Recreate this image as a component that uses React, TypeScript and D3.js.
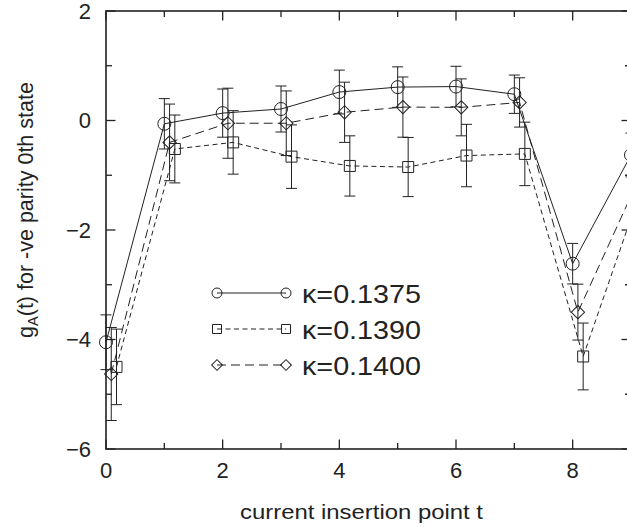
import React, { useEffect, useRef } from 'react';
import * as d3 from 'd3';

// INSERTION POINTS AND SERIES VALUES
const tPoints = [0, 1, 2, 3, 4, 5, 6, 7, 8, 9];

const k1375 = [-4.05, -0.06, 0.135, 0.21, 0.52, 0.61, 0.62, 0.48, -2.615, -0.63];
const k1375Err = [0.5, 0.46, 0.44, 0.42, 0.4, 0.37, 0.37, 0.35, 0.37, 0.4];

const k1390 = [-4.5, -0.52, -0.4, -0.66, -0.83, -0.85, -0.64, -0.61, -4.31, -1.23];
const k1390Err = [0.69, 0.62, 0.58, 0.58, 0.55, 0.54, 0.57, 0.58, 0.61, 0.6];

const k1400 = [-4.63, -0.4, -0.05, -0.05, 0.15, 0.245, 0.24, 0.33, -3.5, -1.17];
const k1400Err = [0.85, 0.7, 0.64, 0.59, 0.55, 0.55, 0.52, 0.45, 0.51, 0.6];

const seriesLabels = ['κ=0.1375', 'κ=0.1390', 'κ=0.1400'];

// TICKS
const xMajorTicks = [0, 2, 4, 6, 8];
const xMinorTicks = [1, 3, 5, 7, 9];
const yMajorTicks = [-6, -4, -2, 0, 2];
const yMinorTicks = [-5, -3, -1, 1];

const INK = '#222';
const FONT = "'Liberation Sans', Arial, Helvetica, sans-serif";

export default function App() {
    const ref = useRef<SVGSVGElement>(null);

    useEffect(() => {
        //CHART MARGINS AND DIMENSIONS
        var margin = {top: 11, right: -4, bottom: 78, left: 106},
            width = 627 - margin.left - margin.right,
            height = 527 - margin.top - margin.bottom;

        var root = d3.select(ref.current);
        root.selectAll('*').remove();
        var svg = root.append('g')
            .attr('transform', 'translate(' + margin.left + ',' + margin.top + ')');

        var x = d3.scaleLinear().domain([0, 9]).range([0, width]);
        var y = d3.scaleLinear().domain([-6, 2]).range([height, 0]);

        //FRAME
        svg.append('rect')
            .attr('x', 0).attr('y', 0)
            .attr('width', width).attr('height', height)
            .attr('fill', 'none')
            .attr('stroke', INK)
            .attr('stroke-width', 1.6);

        //INWARD TICKS ON ALL FOUR SIDES
        const ticks = svg.append('g').attr('stroke', INK).attr('stroke-width', 1.3);
        const xt = [...xMajorTicks.map(v => ({v, len: 9.5})), ...xMinorTicks.map(v => ({v, len: 6}))];
        const yt = [...yMajorTicks.map(v => ({v, len: 9.5})), ...yMinorTicks.map(v => ({v, len: 6}))];
        xt.forEach(d => {
            ticks.append('line').attr('x1', x(d.v)).attr('x2', x(d.v)).attr('y1', height).attr('y2', height - d.len);
            ticks.append('line').attr('x1', x(d.v)).attr('x2', x(d.v)).attr('y1', 0).attr('y2', d.len);
        });
        yt.forEach(d => {
            ticks.append('line').attr('y1', y(d.v)).attr('y2', y(d.v)).attr('x1', 0).attr('x2', d.len);
            ticks.append('line').attr('y1', y(d.v)).attr('y2', y(d.v)).attr('x1', width).attr('x2', width - d.len);
        });

        //TICK LABELS
        svg.append('g').selectAll('text').data(xMajorTicks).enter().append('text')
            .attr('x', d => x(d)).attr('y', height + 29)
            .attr('text-anchor', 'middle')
            .attr('font-family', FONT).attr('font-size', 22).attr('fill', INK)
            .text(d => String(d));
        svg.append('g').selectAll('text').data(yMajorTicks).enter().append('text')
            .attr('x', -15).attr('y', d => y(d)).attr('dy', '0.36em')
            .attr('text-anchor', 'end')
            .attr('font-family', FONT).attr('font-size', 22).attr('fill', INK)
            .text(d => (d < 0 ? '\u2212' + Math.abs(d) : String(d)));

        //AXIS LABELS
        svg.append('text')
            .attr('x', 361.5 - margin.left).attr('y', 519 - margin.top)
            .attr('text-anchor', 'middle')
            .attr('font-family', FONT).attr('font-size', 20.5).attr('fill', INK)
            .attr('textLength', 243).attr('lengthAdjust', 'spacingAndGlyphs')
            .text('current insertion point t');

        //Y LABEL: START-ANCHORED, THEN CENTRED BY ITS MEASURED LENGTH
        const yl = svg.append('text')
            .attr('transform', 'translate(' + (33 - margin.left) + ',' + (210 - margin.top) + ') rotate(-90)')
            .attr('text-anchor', 'start')
            .attr('font-family', FONT).attr('font-size', 21.5).attr('fill', INK);
        yl.append('tspan').text('g');
        yl.append('tspan').attr('font-size', 14.5).attr('dy', 5).text('A');
        yl.append('tspan').attr('dy', -5).text('(t) for -ve parity 0th state');
        const ylLen = (yl.node() as SVGTextElement).getComputedTextLength();
        yl.attr('x', -ylLen / 2);

        //SERIES
        const circleSym = (s: number) => d3.symbol().type(d3.symbolCircle).size(Math.PI * s * s)();
        const squareSym = (s: number) => d3.symbol().type(d3.symbolSquare).size(s * s)();
        const series = [
            {vals: k1375, errs: k1375Err, offset: 0, dash: null, mark: circleSym(6.5), legMark: circleSym(5), rot: 0},
            {vals: k1390, errs: k1390Err, offset: 0.18, dash: '5,3.5', mark: squareSym(11), legMark: squareSym(9), rot: 0},
            {vals: k1400, errs: k1400Err, offset: 0.09, dash: '9,5', mark: squareSym(9.4), legMark: squareSym(7.6), rot: 45},
        ];

        series.forEach(s => {
            const pts = tPoints.map((t, i) => ({t: t + s.offset, v: s.vals[i], e: s.errs[i]}));
            const g = svg.append('g').attr('stroke', INK).attr('fill', 'none').attr('stroke-width', 1);

            //ERROR BARS
            pts.forEach(p => {
                const cx = x(p.t);
                g.append('line').attr('x1', cx).attr('x2', cx).attr('y1', y(p.v - p.e)).attr('y2', y(p.v + p.e));
                g.append('line').attr('x1', cx - 5.5).attr('x2', cx + 5.5).attr('y1', y(p.v + p.e)).attr('y2', y(p.v + p.e));
                g.append('line').attr('x1', cx - 5.5).attr('x2', cx + 5.5).attr('y1', y(p.v - p.e)).attr('y2', y(p.v - p.e));
            });

            //LINE
            g.append('path')
                .datum(pts)
                .attr('stroke-dasharray', s.dash)
                .attr('d', d3.line<{t: number, v: number}>().x(d => x(d.t)).y(d => y(d.v)));

            //MARKERS
            pts.forEach(p => {
                g.append('path')
                    .attr('d', s.mark)
                    .attr('transform', 'translate(' + x(p.t) + ',' + y(p.v) + ') rotate(' + s.rot + ')');
            });
        });

        //LEGEND
        const legend = root.append('g');
        series.forEach((s, i) => {
            const ly = 293 + i * 36;
            const lg = legend.append('g').attr('stroke', INK).attr('fill', 'none').attr('stroke-width', 1);
            lg.append('line').attr('x1', 217).attr('x2', 286).attr('y1', ly).attr('y2', ly).attr('stroke-dasharray', s.dash);
            [217, 286].forEach(mx => {
                lg.append('path').attr('d', s.legMark)
                    .attr('transform', 'translate(' + mx + ',' + ly + ') rotate(' + s.rot + ')');
            });
            legend.append('text')
                .attr('x', 302).attr('y', ly + 9.5)
                .attr('font-family', FONT).attr('font-size', 26).attr('fill', INK)
                .attr('textLength', 119).attr('lengthAdjust', 'spacingAndGlyphs')
                .text(seriesLabels[i]);
        });
    }, []);

    return (
        <svg ref={ref} width={627} height={527}
            style={{position: 'absolute', left: 0, top: 0, background: '#fff'}} />
    );
}
